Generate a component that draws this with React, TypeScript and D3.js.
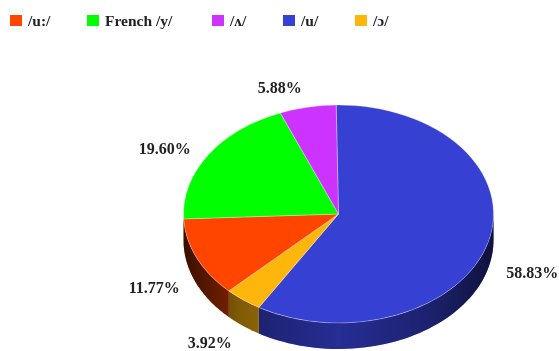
import React from "react";
import * as d3 from "d3";

const phonemes = ["/u/", "/ɔ/", "/u:/", "French /y/", "/ʌ/"];
const shares = [58.83, 3.92, 11.77, 19.6, 5.88];
const sliceColors = ["#3640d2", "#ffb60c", "#ff4500", "#00ff00", "#cc33ff"];
const legendOrder = ["/u:/", "French /y/", "/ʌ/", "/u/", "/ɔ/"];
const legendX = [10, 87, 212, 283, 355];
const labelNudgeX = [15, -15, -15, -18, -22];
const labelNudgeY = [2, -2, -3, 15, 15];

const W = 559, H = 351;
const cx = 338.5, cy = 214, rx = 155, ry = 109, depth = 26;
const tilt = -0.015;
const serif = "'Liberation Serif', 'Times New Roman', serif";

const pieGen = d3.pie<number>().sort(null).startAngle(tilt).endAngle(2 * Math.PI + tilt);
const arcs = pieGen(shares);
const arcGen = d3.arc<any>().innerRadius(0).outerRadius(rx);

const sx = (a: number) => cx + rx * Math.sin(a);
const sy = (a: number) => cy - ry * Math.cos(a);

const sideArea = d3.area<number>().x(sx).y0(sy).y1((a) => sy(a) + depth);

function sideAngles(start: number, end: number): number[] | null {
  const a = Math.max(start, Math.PI / 2);
  const b = Math.min(end, (3 * Math.PI) / 2);
  if (b <= a) return null;
  return d3.range(0, 61).map((i) => a + ((b - a) * i) / 60);
}

export default function App() {
  return (
    <svg width={W} height={H} style={{ position: "absolute", left: 0, top: 0, filter: "blur(0.35px)" }} fontFamily={serif}>
      <defs>
        <linearGradient id="shade" gradientUnits="userSpaceOnUse" x1={cx - rx} x2={cx + rx} y1={0} y2={0}>
          <stop offset="0" stopColor="#000" stopOpacity={0.78} />
          <stop offset="0.18" stopColor="#000" stopOpacity={0.5} />
          <stop offset="0.5" stopColor="#000" stopOpacity={0.3} />
          <stop offset="0.8" stopColor="#000" stopOpacity={0.48} />
          <stop offset="1" stopColor="#000" stopOpacity={0.72} />
        </linearGradient>
      </defs>
      {legendOrder.map((name, i) => (
        <g key={name}>
          <rect x={legendX[i]} y={15} width={12} height={11} fill={sliceColors[phonemes.indexOf(name)]} />
          <text x={legendX[i] + 18} y={26} fontSize={15.5} fontWeight="bold" fill="#222">{name}</text>
        </g>
      ))}
      {arcs.map((a, i) => {
        const angles = sideAngles(a.startAngle, a.endAngle);
        if (!angles) return null;
        const d = sideArea(angles) as string;
        return (
          <g key={i}>
            <path d={d} fill={sliceColors[i]} />
            <path d={d} fill="url(#shade)" />
          </g>
        );
      })}
      <g transform={`translate(${cx},${cy}) scale(1,${ry / rx})`}>
        {arcs.map((a, i) => (
          <path key={i} d={arcGen(a) as string} fill={sliceColors[i]} stroke="#ffffff" strokeOpacity={0.3} strokeWidth={1} vectorEffect="non-scaling-stroke" />
        ))}
      </g>
      {arcs.map((a, i) => {
        const mid = (a.startAngle + a.endAngle) / 2;
        const x = cx + (rx + 30) * Math.sin(mid) + labelNudgeX[i];
        const y = cy - (ry + 30) * Math.cos(mid) + labelNudgeY[i] + (Math.cos(mid) < 0 ? depth : 0);
        return (
          <text key={i} x={x} y={y} textAnchor="middle" fontSize={16} fontWeight="bold" fill="#222">
            {shares[i].toFixed(2) + "%"}
          </text>
        );
      })}
    </svg>
  );
}
